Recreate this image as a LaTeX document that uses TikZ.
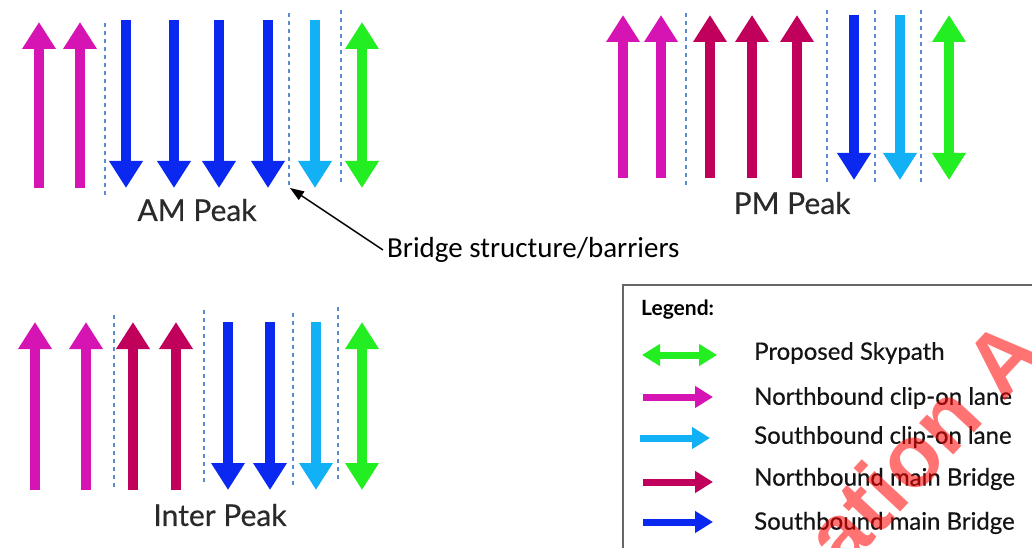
\documentclass[tikz,border=0pt]{standalone}
\usepackage{fontspec}
\setmainfont{Lato}
\newfontfamily\lblfont[FakeBold=0.5]{Lato}
\newfontfamily\calfont{Carlito}
\newfontfamily\wmfont{Liberation Sans}
\usetikzlibrary{arrows.meta}
\definecolor{nbclip}{HTML}{D614B4}
\definecolor{nbmain}{HTML}{C0005A}
\definecolor{sbmain}{HTML}{0A28F0}
\definecolor{sbclip}{HTML}{12B0F5}
\definecolor{skyg}{HTML}{22EE22}
\definecolor{barrier}{HTML}{5B8BD0}
\definecolor{labelgray}{HTML}{2A2A2A}
\begin{document}
\begin{tikzpicture}[x=1pt,y=-1pt,
  lane/.style={line width=10pt,-{Triangle[length=27pt,width=32pt]}},
  lanetwo/.style={line width=10pt,{Triangle[length=27pt,width=32pt]}-{Triangle[length=27pt,width=32pt]}},
  keylane/.style={line width=7pt,-{Triangle[length=18pt,width=21pt]}},
  keylanetwo/.style={line width=7pt,{Triangle[length=18pt,width=21pt]}-{Triangle[length=18pt,width=21pt]}},
  barrierline/.style={barrier,line width=1.4pt,dash pattern=on 4pt off 4pt},
  panellabel/.style={font=\lblfont\fontsize{30}{34}\selectfont,text=labelgray,inner sep=0pt},
  keytext/.style={font=\lblfont\fontsize{24}{28}\selectfont,text=black!92,anchor=west,inner sep=0pt},
]
\useasboundingbox (0,0) rectangle (1032,548);

% ---------------- AM Peak ----------------
\foreach \x in {39,80} \draw[lane,nbclip] (\x,188) -- (\x,22);
\foreach \x in {126,174,219,268} \draw[lane,sbmain] (\x,20) -- (\x,188);
\draw[lane,sbclip] (315,20) -- (315,188);
\draw[lanetwo,skyg] (362,188) -- (362,22);
\draw[barrierline] (105,23) -- (105,197);
\draw[barrierline] (289,13) -- (289,188);
\draw[barrierline] (341,10) -- (341,185);
\node[panellabel] (amlabel) at (197,210) {AM Peak};
\coordinate (ambarrier) at (290,188);

% ---------------- PM Peak ----------------
\foreach \x in {623,661} \draw[lane,nbclip] (\x,178) -- (\x,15);
\foreach \x in {710,752,797} \draw[lane,nbmain] (\x,178) -- (\x,15);
\draw[lane,sbmain] (854,15) -- (854,180);
\draw[lane,sbclip] (900,15) -- (900,180);
\draw[lanetwo,skyg] (949,180) -- (949,15);
\draw[barrierline] (686,13) -- (686,188);
\draw[barrierline] (827,10) -- (827,183);
\draw[barrierline] (875,10) -- (875,183);
\draw[barrierline] (921,10) -- (921,183);
\node[panellabel] (pmlabel) at (792,203) {PM Peak};

% ---------------- Inter Peak ----------------
\foreach \x in {35,86} \draw[lane,nbclip] (\x,490) -- (\x,322);
\foreach \x in {133,176} \draw[lane,nbmain] (\x,490) -- (\x,322);
\foreach \x in {228,270} \draw[lane,sbmain] (\x,322) -- (\x,490);
\draw[lane,sbclip] (316,322) -- (316,490);
\draw[lanetwo,skyg] (362,490) -- (362,322);
\draw[barrierline] (114,315) -- (114,490);
\draw[barrierline] (204,310) -- (204,483);
\draw[barrierline] (293,313) -- (293,487);
\draw[barrierline] (338,307) -- (338,482);
\node[panellabel] (iplabel) at (220,515) {Inter Peak};

% ---------------- Callout ----------------
\node[font=\calfont\fontsize{29}{33}\selectfont,anchor=west,inner sep=4pt] (bridge) at (383,250) {Bridge structure/barriers};
\draw[line width=1.5pt,-{Triangle[length=14pt,width=10pt]}] (bridge.west) -- (ambarrier);

% ---------------- Legend ----------------
\draw[black!60,line width=1.6pt] (623,285) rectangle (1050,570);
\node[font=\bfseries\fontsize{21}{25}\selectfont,anchor=west,inner sep=0pt] (legtitle) at (641,310) {Legend:};
\draw[keylanetwo,skyg] (642,355) -- (717,355);
\draw[keylane,nbclip] (643,397) -- (713,397);
\draw[keylane,sbclip] (640,438) -- (710,438);
\draw[keylane,nbmain] (643,482) -- (713,482);
\draw[keylane,sbmain] (643,522) -- (713,522);
\node[keytext] (k1) at (754,353) {Proposed Skypath};
\node[keytext] (k2) at (754,398) {Northbound clip-on lane};
\node[keytext] (k3) at (754,437) {Southbound clip-on lane};
\node[keytext] (k4) at (754,479) {Northbound main Bridge};
\node[keytext] (k5) at (754,523) {Southbound main Bridge};

% ---------------- Watermark ----------------
\node[font=\wmfont\bfseries\fontsize{88}{100}\selectfont,text=red,text opacity=0.55,
      anchor=base west,inner sep=0pt,rotate=47] (wm) at (843,574) {ation A};
\end{tikzpicture}
\end{document}
